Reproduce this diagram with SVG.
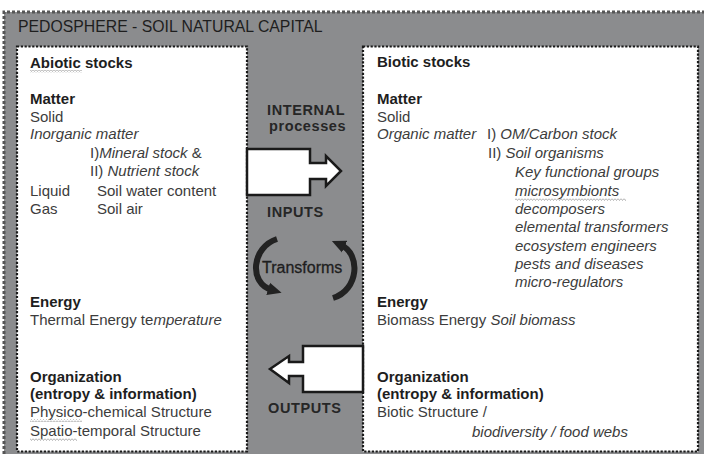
<svg xmlns="http://www.w3.org/2000/svg" width="704" height="454" viewBox="0 0 704 454">
<style>
text{font-family:"Liberation Sans",Arial,sans-serif;font-size:15px;fill:#3c3c3c}
.b{font-weight:bold;fill:#1e1e1e}
.i{font-style:italic}
.mid{font-weight:bold;font-size:14.5px;fill:#262626;letter-spacing:0.6px}
.box{fill:#fff;stroke:#1a1a1a;stroke-width:2.2;stroke-dasharray:2.2 1.6}
.arr{fill:#fff;stroke:#1a1a1a;stroke-width:2.5;stroke-linejoin:miter}
.curve{fill:none;stroke:#222;stroke-width:6}
.wavy{fill:url(#wv)}
</style>
<defs>
<pattern id="wv" width="3" height="3" patternUnits="userSpaceOnUse">
<path d="M0 0.5 L1.5 2.5 L3 0.5" fill="none" stroke="#a0a0a0" stroke-width="0.8"/>
</pattern>
<marker id="ah" markerWidth="15" markerHeight="15" refX="4" refY="7.5" orient="auto" markerUnits="userSpaceOnUse">
<path d="M0 1 L14 7.5 L0 14 Z" fill="#222"/>
</marker>
</defs>
<g id="frame">
<rect x="4" y="12" width="700" height="442" fill="#8b8c8e"/>
<path d="M4 454 L4 12 L704 12" fill="none" stroke="#555" stroke-width="3" stroke-dasharray="3 2"/>
<text x="18" y="32" style="font-size:15.8px;fill:#1e1e1e">PEDOSPHERE - SOIL NATURAL CAPITAL</text>
</g>
<g id="abiotic">
<rect class="box" x="17" y="46.5" width="230" height="405"/>
<text class="b" x="30" y="68">Abiotic stocks</text>
<rect class="wavy" x="30" y="70" width="52" height="3"/>
<text class="b" x="30" y="104">Matter</text>
<text x="30" y="122">Solid</text>
<text class="i" x="30" y="139">Inorganic matter</text>
<text x="90" y="158">I)<tspan class="i">Mineral stock</tspan> &amp;</text>
<text x="90" y="176">II) <tspan class="i">Nutrient stock</tspan></text>
<text x="30" y="196">Liquid</text>
<text x="97" y="196">Soil water content</text>
<text x="30" y="214">Gas</text>
<text x="97" y="214">Soil air</text>
<text class="b" x="30" y="307">Energy</text>
<text x="30" y="325">Thermal Energy te<tspan class="i">mperature</tspan></text>
<text class="b" x="30" y="382">Organization</text>
<text class="b" x="30" y="399">(entropy &amp; information)</text>
<text x="30" y="417">Physico-chemical Structure</text>
<rect class="wavy" x="30" y="419" width="52" height="3"/>
<text x="30" y="436">Spatio-temporal Structure</text>
<rect class="wavy" x="30" y="438" width="47" height="3"/>
</g>
<g id="biotic">
<rect class="box" x="363" y="46.5" width="335" height="405"/>
<text class="b" x="377" y="67">Biotic stocks</text>
<text class="b" x="377" y="104">Matter</text>
<text x="377" y="122">Solid</text>
<text class="i" x="377" y="139">Organic matter</text>
<text x="487" y="139">I) <tspan class="i">OM/Carbon stock</tspan></text>
<text x="488" y="158">II) <tspan class="i">Soil organisms</tspan></text>
<text class="i" x="515" y="177">Key functional groups</text>
<text class="i" x="515" y="196">microsymbionts</text>
<rect class="wavy" x="515" y="198" width="111" height="3"/>
<text class="i" x="515" y="214">decomposers</text>
<text class="i" x="515" y="232">elemental transformers</text>
<text class="i" x="515" y="251">ecosystem engineers</text>
<text class="i" x="515" y="269">pests and diseases</text>
<text class="i" x="515" y="287">micro-regulators</text>
<text class="b" x="377" y="307">Energy</text>
<text x="377" y="325">Biomass Energy <tspan class="i">Soil biomass</tspan></text>
<text class="b" x="377" y="382">Organization</text>
<text class="b" x="377" y="399">(entropy &amp; information)</text>
<text x="377" y="417">Biotic Structure /</text>
<text class="i" x="472" y="437">biodiversity / food webs</text>
</g>
<g id="processes">
<text class="mid" x="267" y="115">INTERNAL</text>
<text class="mid" x="269" y="131">processes</text>
<text class="mid" x="267" y="217">INPUTS</text>
<text class="mid" x="268" y="413">OUTPUTS</text>
<text x="262" y="273" style="font-size:16px;fill:#1e1e1e;stroke:#1e1e1e;stroke-width:0.3">Transforms</text>
</g>
<g id="connectors">
<path class="arr" d="M247 149 L310 149 L310 163 L326 163 L326 156 L341 171 L326 186 L326 179 L310 179 L310 195 L247 195 Z"/>
<path class="arr" d="M363 346 L303 346 L303 362 L289 362 L289 356 L270 369 L289 383 L289 376 L303 376 L303 392 L363 392 Z"/>
<path class="curve" d="M277 239 C252 247 248 283 272 290" marker-end="url(#ah)"/>
<path class="curve" d="M333 298 C359 290 361 254 341 245" marker-end="url(#ah)"/>
</g>
</svg>
